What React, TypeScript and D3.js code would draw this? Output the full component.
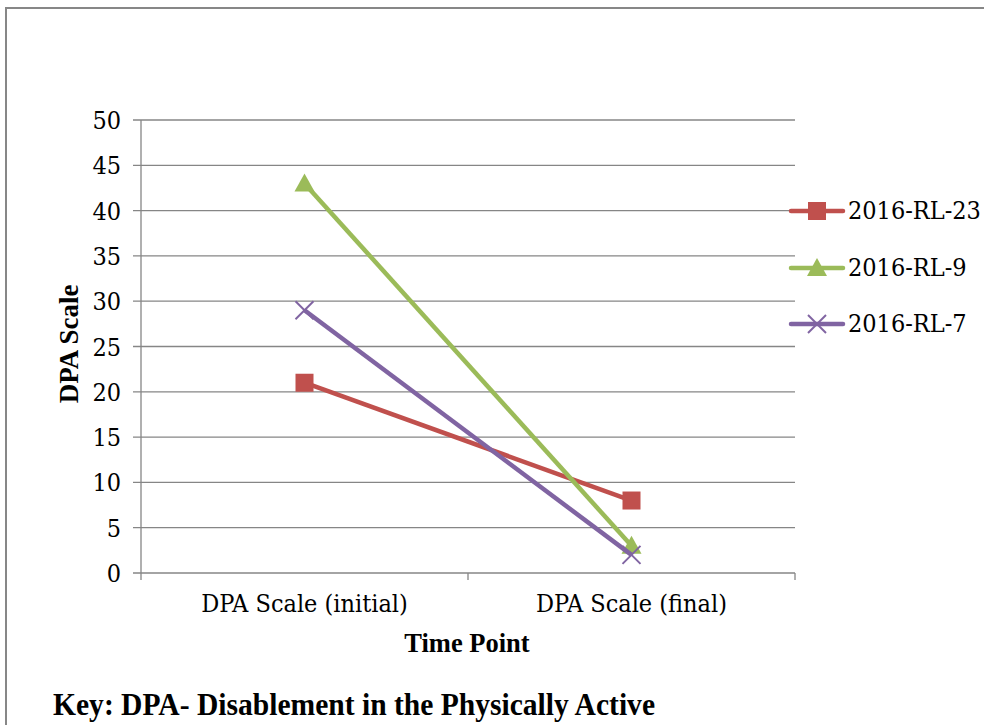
import React from "react";
import * as d3 from "d3";

const categories = ["DPA Scale (initial)", "DPA Scale (final)"];
const seriesNames = ["2016-RL-23", "2016-RL-9", "2016-RL-7"];
const rl23 = [21, 8];
const rl9 = [43, 3];
const rl7 = [29, 2];
const yTicks = [0, 5, 10, 15, 20, 25, 30, 35, 40, 45, 50];
const colors = ["#C0504D", "#9BBB59", "#8064A2"];
const markers = ["square", "triangle", "x"];

const W = 984, H = 725;
const left = 141, right = 795, top = 120, bottom = 573;

function Marker({ type, x, y, color }: { type: string; x: number; y: number; color: string }) {
  if (type === "square") return <rect x={x - 9} y={y - 9} width={18} height={18} fill={color} />;
  if (type === "triangle") {
    const p = `${x},${y - 10} ${x - 10},${y + 8} ${x + 10},${y + 8}`;
    return <polygon points={p} fill={color} />;
  }
  return (
    <g stroke={color} strokeWidth={2}>
      <line x1={x - 9} y1={y - 9} x2={x + 9} y2={y + 9} />
      <line x1={x - 9} y1={y + 9} x2={x + 9} y2={y - 9} />
    </g>
  );
}

export default function App() {
  const y = d3.scaleLinear().domain([0, 50]).range([bottom, top]);
  const x = d3.scaleBand().domain(categories).range([left, right]);
  const cx = (c: string) => (x(c) as number) + x.bandwidth() / 2;
  const data = [rl23, rl9, rl7];
  const line = d3.line<number>().x((_, i) => cx(categories[i])).y((v) => y(v));
  const legendY = [211, 268, 324];
  const boldFont = "'Liberation Serif', serif";
  const regStyle: React.CSSProperties = { fontFamily: "'DejaVu Serif Condensed', 'DejaVu Serif', serif", fontStretch: "condensed" };
  return (
    <svg width={W} height={H} style={{ position: "absolute", left: 0, top: 0, fontFamily: boldFont }}>
      <rect x={0} y={0} width={W} height={H} fill="#fff" />
      <path d={`M6,${H} V8 H${W}`} fill="none" stroke="#878787" strokeWidth={2} />
      {yTicks.map((t) => (
        <g key={t}>
          <line x1={133} x2={right} y1={y(t)} y2={y(t)} stroke="#868686" strokeWidth={1.3} />
          <text x={121} y={y(t) + 9} textAnchor="end" fontSize={25} style={regStyle}>{t}</text>
        </g>
      ))}
      <line x1={left} x2={left} y1={top} y2={bottom} stroke="#868686" strokeWidth={1.3} />
      {[left, left + x.step(), right].map((v, i) => (
        <line key={i} x1={v} x2={v} y1={bottom} y2={bottom + 7} stroke="#868686" strokeWidth={1.3} />
      ))}
      {categories.map((c) => (
        <text key={c} x={cx(c)} y={612} textAnchor="middle" fontSize={25} style={regStyle}>{c}</text>
      ))}
      <text x={467} y={652} textAnchor="middle" fontSize={26.5} fontWeight="bold">Time Point</text>
      <text transform={`translate(78,344) rotate(-90)`} textAnchor="middle" fontSize={27} fontWeight="bold">DPA Scale</text>
      {data.map((d, i) => (
        <g key={i}>
          <path d={line(d) as string} fill="none" stroke={colors[i]} strokeWidth={4.5} />
          {d.map((v, j) => (
            <Marker key={j} type={markers[i]} x={cx(categories[j])} y={y(v)} color={colors[i]} />
          ))}
        </g>
      ))}
      {seriesNames.map((s, i) => (
        <g key={s}>
          <line x1={791} x2={843} y1={legendY[i]} y2={legendY[i]} stroke={colors[i]} strokeWidth={4.5} strokeLinecap="round" />
          <Marker type={markers[i]} x={817} y={legendY[i]} color={colors[i]} />
          <text x={848} y={legendY[i] + 8} fontSize={25} style={regStyle}>{s}</text>
        </g>
      ))}
      <text x={53} y={715} fontSize={32} fontWeight="bold" textLength={602} lengthAdjust="spacingAndGlyphs">
        Key: DPA- Disablement in the Physically Active
      </text>
    </svg>
  );
}
